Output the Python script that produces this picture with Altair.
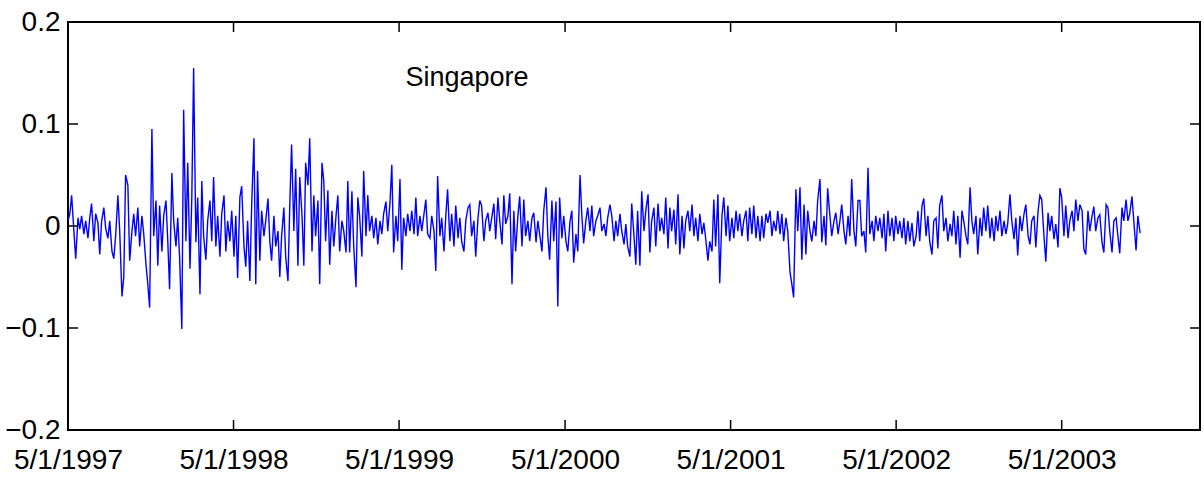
import altair as alt
import pandas as pd

# Daily returns (in thousandths), left to right
seg_a = [5, 12, 30, -5, -32, 8, -3, 10, -8, 5, -12, 8, 22, -15, 12, 3, -28, 4, 18, -2,
         -12, 5, -25, -32, -10, 30, -5, -69, -50, 50, 40, -34, -5, 12, -10, 18, -20, 10, -8, -38,
         -57, -80, 95, -10, 25, -39]
seg_b = [20, -25, 10, 25, -15, -62, 52, 5, -20, 8, -30, -101, 114, -15, 62, -42, 28, 155, -16, 28,
         -67, 44, -10, -33, 5, 25, -15, 48, -20, 10, -30, 12, 30, -25, 5, -15, 15, -30, 10, -51,
         28, 39, -20, -40, 5, -54, 20, 86, -57, 54]
seg_c = [-34, 15, -10, 5, 27, -15, -34, 10, -20, -5, -50, -10, 18, -30, -54, 20, 80, -5, 56, -39,
         48, 10, -39, 62, 40, 86, -25, 30, -10, 25, -57, 62, 44, -15, 35, -38, 15, -20, 10, 30,
         -25, 5, -5, -26, 44, -26, 34, -20, -60, 28]
seg_d = [10, -30, 54, -10, 30, -5, 10, -12, 8, -18, 5, -8, 12, 24, -5, 23, 60, -26, 10, -15,
         46, -43, 8, -10, 12, -5, 15, -8, 28, -10, 10, -5, 12, 26, -8, -12, 10, -5, -44, 49,
         -10, 8, -25, 10, 36, -15, 12, -20, 20, -12]
seg_e = [8, -15, -25, 5, 18, 21, -10, 5, -30, 8, 25, 20, -15, 5, 13, -5, 10, 22, -13, 28,
         5, -18, 30, 2, 10, 32, -57, 15, -25, 10, 29, -20, 26, -10, 5, -15, 8, 13, -16, 5,
         -8, -25, 15, 38, -10, -33, 25, -15, 24, -79]
seg_f = [28, -12, 10, -15, -25, 5, 15, -36, -8, -25, 50, 10, -17, 6, 18, -5, 20, -10, 5, 10,
         18, -5, 2, -10, 8, 21, 10, -15, 5, -10, 12, -5, -18, 2, -20, -30, 22, -10, -38, 15,
         -39, 34, -5, 15, 31, -26, 5, 18, -20, 22]
seg_g = [-5, 8, -8, 28, -22, 18, -5, 16, -18, 31, -28, 10, -22, 5, 15, -5, 21, -10, 8, -15,
         12, -8, 3, -12, -34, -15, -25, 26, -20, 31, -56, 10, 28, -10, 20, -15, 8, -12, 15, -5,
         12, -10, 5, 15, -15, 18, -8, 20, -12, 10]
seg_h = [-15, 10, -12, 12, 3, 15, -10, 5, -5, 15, -8, 12, -15, 8, -5, -45, -57, -70, 36, -5,
         38, -33, 21, -28, 15, -5, -15, 5, -10, 25, 46, -16, 10, -19, 37, 10, -10, 5, 13, -8,
         5, 21, -5, -18, 10, -10, 46, -5, -20, 25]
seg_i = [25, -10, -5, -26, 57, -8, 5, -15, 10, -5, 8, -12, 12, -25, 15, -10, 8, -15, 10, -8,
         5, -12, 8, -18, 5, -15, 3, -20, -10, 15, -15, 20, 27, -10, 10, -15, -28, 5, 8, -22,
         20, 30, -5, 8, -15, 2, -10, 15, -18, 10]
seg_j = [-31, 15, 5, -10, -18, 38, 5, -8, 10, -28, 8, -10, 18, -5, 20, -12, 8, -15, 10, -5,
         15, -10, 5, -8, 2, 31, 5, -13, 8, -29, 10, -5, 12, 21, -10, -18, 5, 10, -21, 15,
         30, 26, -10, -35, 13, -5, 10, -13, 2, -21]
seg_k = [37, 28, -10, 20, -12, 5, 15, -5, 26, 5, 21, 15, -23, -28, 15, -5, 10, 19, -5, 8,
         11, -16, -26, 21, 18, -5, -26, 5, 8, -10, -27, 18, 5, 26, 5, 12, 29, 5, -24, 10, -7]

start_date = "1997-05-01"
end_date = "2003-10-21"
x_domain = ["1997-05-01", "2004-03-01"]
x_tick_dates = ["1997-05-01", "1998-05-01", "1999-05-01", "2000-05-01",
                "2001-05-01", "2002-05-01", "2003-05-01"]
y_tick_values = [-0.2, -0.1, 0, 0.1, 0.2]
inner_y_ticks = [-0.1, 0, 0.1]
series_label = "Singapore"

returns_milli = seg_a + seg_b + seg_c + seg_d + seg_e + seg_f + seg_g + seg_h + seg_i + seg_j + seg_k
dates = pd.date_range(start_date, end_date, periods=len(returns_milli))
df = pd.DataFrame({"date": dates.strftime("%Y-%m-%d"),
                   "ret": [v / 1000 for v in returns_milli]})


def to_dt(s):
    return alt.DateTime(year=int(s[:4]), month=int(s[5:7]), date=int(s[8:10]), utc=True)


W, H = 1132, 408
FONT = "Liberation Sans Narrow, Liberation Sans, Arial, sans-serif"
TICK = 10

xscale = alt.Scale(type="utc", domain=[to_dt(x_domain[0]), to_dt(x_domain[1])])
yscale = alt.Scale(domain=[-0.2, 0.2], nice=False, zero=False)

xaxis = alt.Axis(values=[to_dt(s) for s in x_tick_dates],
                 labelExpr="utcFormat(datum.value, '%-m/%-d/%Y')",
                 ticks=False, domain=False, grid=False,
                 labelFlush=False, labelOverlap=False, labelBound=False,
                 labelPadding=16, labelFontSize=28, labelFont=FONT,
                 labelColor="black", title=None)
yaxis = alt.Axis(values=y_tick_values,
                 labelExpr="datum.value == 0 ? '0' : format(datum.value, '.1f')",
                 ticks=False, domain=False, grid=False, labelFlush=False,
                 labelOverlap=False, labelBound=False, labelPadding=8,
                 labelFontSize=28, labelFont=FONT, labelColor="black", title=None)

line = alt.Chart(df).mark_line(color="#0000ff", strokeWidth=1.4, clip=True).encode(
    x=alt.X("date:T", scale=xscale, axis=xaxis, title=None),
    y=alt.Y("ret:Q", scale=yscale, axis=yaxis, title=None),
)

ytick_df = pd.DataFrame({"ret": inner_y_ticks})
xtick_df = pd.DataFrame({"date": x_tick_dates})

left_ticks = alt.Chart(ytick_df).mark_rule(color="black", strokeWidth=1.5).encode(
    y=alt.Y("ret:Q", scale=yscale, axis=yaxis, title=None), x=alt.value(0), x2=alt.value(TICK))
right_ticks = alt.Chart(ytick_df).mark_rule(color="black", strokeWidth=1.5).encode(
    y=alt.Y("ret:Q", scale=yscale, axis=yaxis, title=None), x=alt.value(W - TICK), x2=alt.value(W))
bottom_ticks = alt.Chart(xtick_df).mark_rule(color="black", strokeWidth=1.5).encode(
    x=alt.X("date:T", scale=xscale, axis=xaxis, title=None), y=alt.value(H - TICK), y2=alt.value(H))
top_ticks = alt.Chart(xtick_df).mark_rule(color="black", strokeWidth=1.5).encode(
    x=alt.X("date:T", scale=xscale, axis=xaxis, title=None), y=alt.value(0), y2=alt.value(TICK))

label = alt.Chart(pd.DataFrame({"t": [series_label]})).mark_text(
    font=FONT, fontSize=27, color="black", align="center", baseline="middle"
).encode(text="t:N", x=alt.value(399), y=alt.value(56))

chart = alt.layer(line, left_ticks, right_ticks, bottom_ticks, top_ticks, label).properties(
    width=W, height=H,
    background="white",
    autosize=alt.AutoSizeParams(type="none"),
    padding={"left": 68, "top": 22, "right": 4, "bottom": 59},
).configure_view(stroke="black", strokeWidth=2)

chart.save("out.html", embed_options={"renderer": "svg", "actions": False})
